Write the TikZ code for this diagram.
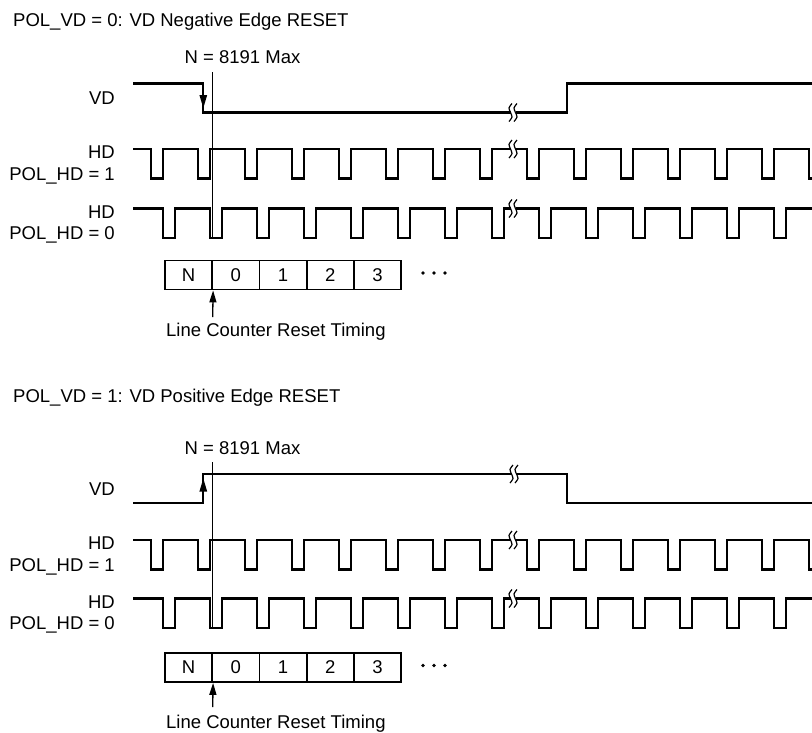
\documentclass[tikz,border=0pt]{standalone}
\usepackage{fontspec}
\setmainfont{Liberation Sans}
\usetikzlibrary{arrows.meta}
\newcommand\brkmark[2]{%
  \fill[white] ({#1-2.5},{#2-2.5}) rectangle ({#1+2.5},{#2+2.5});
  \draw[brkline] plot[smooth] coordinates {({#1-1},{#2-9}) ({#1-4},{#2-4.5}) ({#1-2.5},{#2}) ({#1-1},{#2+4.5}) ({#1-4},{#2+9})};
  \draw[brkline] plot[smooth] coordinates {({#1+4},{#2-9}) ({#1+1},{#2-4.5}) ({#1+2.5},{#2}) ({#1+4},{#2+4.5}) ({#1+1},{#2+9})};
}
\newcommand\hdpos[2]{% #1 high y, #2 first pulse x
  \draw[sig] (133,#1) \foreach \k in {0,...,14} { -- ({#2+47*\k},#1) -- ++(0,29.5) -- ++(12,0) -- ++(0,-29.5) };
}
\begin{document}
\begin{tikzpicture}[x=1pt,y=-1pt,
  sig/.style={line width=2.3pt, line join=miter, line cap=butt},
  lbl/.style={font=\fontsize{18.5}{22}\selectfont, inner sep=0pt},
  cell/.style={draw, line width=1.8pt, minimum width=47.2pt, minimum height=29pt, inner sep=0pt, font=\fontsize{18.5}{22}\selectfont},
  brkline/.style={line width=1.2pt},
  refline/.style={line width=1pt},
  tick/.style={line width=1.3pt, -{Triangle[length=12pt,width=7pt]}},
  ]
\useasboundingbox (0,0) rectangle (812,732);
\clip (0,0) rectangle (812,732);

% ================= top section =================
\node[lbl, anchor=base west] (t1) at (13,26.5) {POL\_VD = 0: VD Negative Edge RESET};
\node[lbl, anchor=base] (n1) at (242.5,63.5) {N = 8191 Max};
\node[lbl, anchor=base east] (vd1) at (115,104.5) {VD};
\node[lbl, anchor=base east] (hda1) at (115,158.5) {HD};
\node[lbl, anchor=base east] (pa1) at (115,180) {POL\_HD = 1};
\node[lbl, anchor=base east] (hdb1) at (115,218) {HD};
\node[lbl, anchor=base east] (pb1) at (115,239.5) {POL\_HD = 0};

\draw[sig] (133,83.5) -- (203.3,83.5) -- (203.3,112.5) -- (567,112.5) -- (567,83.5) -- (812,83.5);
\fill (203.3,108) -- (199.4,95) -- (207.2,95) -- cycle;
\hdpos{149}{150.7}
\hdpos{208.5}{162.7}
\draw[refline] (212.7,72) -- (212.7,238);
\brkmark{513}{112.5}
\brkmark{513}{149}
\brkmark{513}{208.5}

\foreach \t [count=\i from 0] in {N,0,1,2,3}
  \node[cell] (ca\i) at ({165+47.2*(\i+0.5)},275) {\t};
\foreach \dx in {423,434,445} \fill (\dx,273) circle (1.8);
\coordinate (ta) at (212.7,317);
\draw[tick] (ta) -- (ca0.south east);
\node[lbl, anchor=base west] (lc1) at (166,336.5) {Line Counter Reset Timing};

% ================= bottom section =================
\node[lbl, anchor=base west] (t2) at (13,402.5) {POL\_VD = 1: VD Positive Edge RESET};
\node[lbl, anchor=base] (n2) at (242.5,454.5) {N = 8191 Max};
\node[lbl, anchor=base east] (vd2) at (115,495) {VD};
\node[lbl, anchor=base east] (hda2) at (115,549.5) {HD};
\node[lbl, anchor=base east] (pa2) at (115,571) {POL\_HD = 1};
\node[lbl, anchor=base east] (hdb2) at (115,608) {HD};
\node[lbl, anchor=base east] (pb2) at (115,629.5) {POL\_HD = 0};

\draw[sig] (133,503) -- (203.3,503) -- (203.3,474) -- (566.7,474) -- (566.7,503) -- (812,503);
\fill (203.3,478.5) -- (199.4,491.5) -- (207.2,491.5) -- cycle;
\hdpos{540}{150.7}
\hdpos{598.5}{162.7}
\draw[refline] (212.7,462) -- (212.7,628);
\brkmark{514}{474}
\brkmark{513}{540}
\brkmark{513}{598.5}

\foreach \t [count=\i from 0] in {N,0,1,2,3}
  \node[cell] (cb\i) at ({165+47.2*(\i+0.5)},667.5) {\t};
\foreach \dx in {423,434,445} \fill (\dx,665.5) circle (1.8);
\coordinate (tb) at (212.7,707);
\draw[tick] (tb) -- (cb0.south east);
\node[lbl, anchor=base west] (lc2) at (166,728.5) {Line Counter Reset Timing};
\end{tikzpicture}
\end{document}
